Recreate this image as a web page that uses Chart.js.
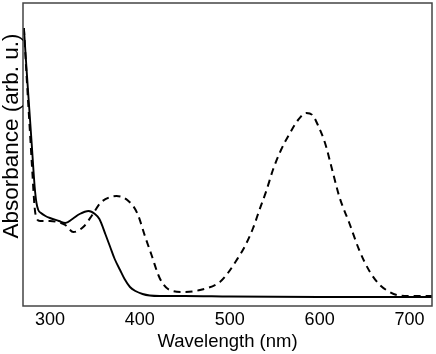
<!DOCTYPE html>
<html>
<head>
<meta charset="utf-8">
<script src="https://cdn.jsdelivr.net/npm/chart.js@4"></script>
<style>
  body { margin: 0; background: #fff; }
  #wrap { width: 436px; height: 354px; }
</style>
</head>
<body>
<div id="wrap"><canvas id="absChart" width="436" height="354"></canvas></div>
<script>
// Absorbance spectra

const solidNm = [271, 274, 277, 280, 283, 285, 287, 290, 295, 300, 310, 317, 325, 333, 343, 350, 355, 362, 367, 372, 378, 383, 389, 395, 403, 411, 422, 450, 500, 600, 700, 725];
const solidAbs = [2.78, 2.36, 1.97, 1.58, 1.19, 1.03, 0.96, 0.93, 0.90, 0.88, 0.85, 0.83, 0.87, 0.92, 0.95, 0.92, 0.87, 0.71, 0.59, 0.47, 0.36, 0.27, 0.19, 0.15, 0.12, 0.105, 0.10, 0.10, 0.095, 0.09, 0.09, 0.09];

const dashNm = [271, 274, 277, 280, 283, 285, 289, 295, 300, 308, 317, 326, 337, 347, 356, 367, 374, 386, 397, 406, 413, 422, 433, 448, 467, 489, 498, 507, 517, 526, 533, 541, 548, 557, 567, 576, 585, 592, 598, 606, 614, 622, 633, 644, 656, 667, 678, 686, 700, 725];
const dashAbs = [2.78, 2.30, 1.85, 1.40, 0.98, 0.88, 0.85, 0.85, 0.85, 0.84, 0.81, 0.74, 0.79, 0.91, 1.03, 1.09, 1.10, 1.06, 0.93, 0.69, 0.51, 0.28, 0.16, 0.14, 0.16, 0.24, 0.33, 0.45, 0.60, 0.78, 0.96, 1.16, 1.36, 1.56, 1.73, 1.86, 1.93, 1.91, 1.81, 1.63, 1.36, 1.09, 0.83, 0.56, 0.34, 0.21, 0.14, 0.11, 0.10, 0.10];

const xTicks = [300, 400, 500, 600, 700];
const xTitle = "Wavelength (nm)";
const yTitle = "Absorbance (arb. u.)";

const FONT = "'Liberation Sans', Arial, sans-serif";

function toPoints(xs, ys) {
  return xs.map((x, i) => ({ x: x, y: ys[i] }));
}

// box round the plot + rotated y title
const framePlugin = {
  id: 'frame',
  afterDraw(chart) {
    const ctx = chart.ctx;
    const a = chart.chartArea;
    ctx.save();
    ctx.strokeStyle = '#444';
    ctx.lineWidth = 1.5;
    ctx.strokeRect(a.left, a.top, a.right - a.left, a.bottom - a.top);

    ctx.translate(11, 136);
    ctx.rotate(-Math.PI / 2);
    ctx.fillStyle = '#000';
    ctx.font = "22.5px " + FONT;
    ctx.textAlign = 'center';
    ctx.textBaseline = 'middle';
    ctx.fillText(yTitle, 0, 1);
    ctx.restore();
  }
};

let absCtx = document.getElementById("absChart");

let absChart = new Chart(absCtx, {
  type: 'line',
  data: {
    datasets: [{
      label: "solid",
      data: toPoints(solidNm, solidAbs),
      borderColor: "#000",
      borderWidth: 1.9,
      pointRadius: 0,
      cubicInterpolationMode: 'monotone',
      fill: false
    },
    {
      label: "dashed",
      data: toPoints(dashNm, dashAbs),
      borderColor: "#000",
      borderWidth: 2,
      borderDash: [7, 5],
      pointRadius: 0,
      cubicInterpolationMode: 'monotone',
      fill: false
    }]
  },
  options: {
    responsive: false,
    animation: false,
    layout: { padding: { top: 3, right: 4, left: 0, bottom: 0 } },
    plugins: {
      legend: { display: false },
      tooltip: { enabled: false }
    },
    scales: {
      x: {
        type: 'linear',
        min: 270,
        max: 725,
        grid: { display: false, drawTicks: false },
        border: { display: false },
        afterBuildTicks: (scale) => {
          scale.ticks = xTicks.map(v => ({ value: v }));
        },
        afterFit: (scale) => { scale.height = 48; },
        ticks: {
          color: '#000',
          padding: 3,
          maxRotation: 0,
          font: { family: FONT, size: 18 }
        },
        title: {
          display: true,
          text: xTitle,
          color: '#000',
          padding: { top: 0, bottom: 1 },
          font: { family: FONT, size: 18.5 }
        }
      },
      y: {
        type: 'linear',
        min: 0,
        max: 3.03,
        grid: { display: false, drawTicks: false },
        border: { display: false },
        ticks: { display: false },
        afterFit: (scale) => { scale.width = 23; }
      }
    }
  },
  plugins: [framePlugin]
});
</script>
</body>
</html>
